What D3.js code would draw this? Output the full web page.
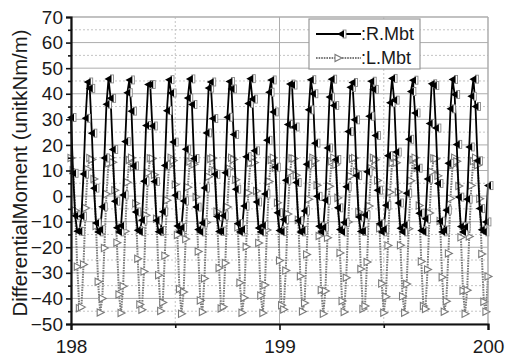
<!DOCTYPE html>
<html>
<head>
<meta charset="utf-8">
<script src="https://cdn.jsdelivr.net/npm/d3@7"></script>
<style>
    body { margin: 0; background: #fff; }
    svg { display: block; font-family: "Liberation Sans", Arial, sans-serif; }
</style>
</head>
<body>
<script>
(function(){

// sample times: 198.00 .. 200.00, one sample every 0.01
var tStart = 198,
    tStep = 0.01;

// right side differential moment (kNm/m)
var rMbt = [30.7, 8.9, -7.7, -13.7, -13.8, -7.9, 8.6, 30.4, 44.6, 42.1,
    24.6, 3.1, -10.5, -14.0, -13.1, -4.2, 14.9, 35.9, 45.8, 38.2,
    18.2, -2.0, -12.4, -14.0, -11.6, 0.4, 21.3, 40.4, 45.4, 33.2,
    11.8, -6.2, -13.4, -13.9, -9.4, 5.8, 27.6, 43.6, 43.6, 27.4,
    5.7, -9.5, -13.9, -13.4, -6.1, 12.0, 33.4, 45.5, 40.3, 21.1,
    0.3, -11.7, -14.0, -12.3, -1.9, 18.3, 38.3, 45.8, 35.8, 14.7,
    -4.3, -13.1, -14.0, -10.5, 3.2, 24.7, 42.2, 44.6, 30.3, 8.5,
    -8.0, -13.8, -13.7, -7.7, 9.1, 30.8, 44.8, 41.9, 24.1, 2.7,
    -10.7, -14.0, -13.0, -3.9, 15.4, 36.2, 45.9, 37.9, 17.7, -2.3,
    -12.5, -14.0, -11.5, 0.8, 21.8, 40.6, 45.4, 32.9, 11.3, -6.5,
    -13.5, -13.9, -9.2, 6.2, 28.0, 43.8, 43.4, 27.0, 5.3, -9.6,
    -14.0, -13.4, -5.8, 12.4, 33.7, 45.5, 40.0, 20.7, -0.1, -11.8,
    -14.0, -12.2, -1.6, 18.8, 38.7, 45.7, 35.4, 14.3, -4.6, -13.1,
    -14.0, -10.3, 3.6, 25.2, 42.5, 44.4, 29.8, 8.0, -8.2, -13.8,
    -13.7, -7.4, 9.5, 31.2, 44.9, 41.7, 23.7, 2.3, -10.8, -14.0,
    -12.9, -3.6, 15.8, 36.5, 46.0, 37.5, 17.2, -2.7, -12.6, -14.0,
    -11.3, 1.1, 22.2, 40.9, 45.3, 32.5, 10.9, -6.7, -13.5, -13.9,
    -8.9, 6.7, 28.4, 43.9, 43.2, 26.6, 4.9, -9.8, -14.0, -13.3,
    -5.5, 12.8, 34.1, 45.6, 39.7, 20.2, -0.4, -11.9, -14.0, -12.1,
    -1.2, 19.2, 39.0, 45.7, 35.0, 13.8, -4.9, -13.2, -14.0, -10.1,
    4.1];

// left side differential moment (kNm/m)
var lMbt = [14.9, 10.1, -5.6, -27.6, -43.8, -43.4, -26.7, -4.7, 10.5, 14.9,
    14.3, 6.7, -11.7, -33.5, -45.5, -40.0, -20.3, 0.8, 12.8, 15.0,
    13.2, 2.3, -18.2, -38.5, -45.7, -35.2, -13.7, 5.4, 14.1, 15.0,
    11.3, -2.9, -24.5, -42.4, -44.4, -29.5, -7.5, 9.1, 14.8, 14.7,
    8.3, -8.9, -30.9, -44.9, -41.6, -23.3, -1.6, 11.8, 15.0, 13.9,
    4.5, -15.2, -36.3, -46.0, -37.5, -16.8, 3.5, 13.5, 15.0, 12.4,
    -0.4, -21.7, -40.8, -45.3, -32.2, -10.3, 7.6, 14.5, 14.9, 9.9,
    -6.0, -28.1, -43.9, -43.3, -26.2, -4.3, 10.7, 15.0, 14.3, 6.4,
    -12.2, -33.9, -45.6, -39.7, -19.8, 1.2, 12.9, 15.0, 13.1, 2.0,
    -18.3, -38.9, -45.7, -34.8, -13.3, 5.7, 14.1, 15.0, 11.1, -2.6,
    -25.2, -42.7, -44.3, -29.1, -7.0, 9.3, 14.8, 14.7, 8.1, -9.3,
    -31.3, -45.1, -41.8, -22.8, -1.2, 12.0, 15.0, 13.8, 4.2, -15.6,
    -36.7, -46.0, -37.1, -16.3, 3.8, 13.6, 15.0, 12.2, -0.7, -22.2,
    -41.0, -45.3, -31.9, -10.1, 7.8, 14.6, 14.9, 9.6, -6.2, -28.5,
    -44.1, -43.0, -25.8, -3.9, 10.9, 15.0, 14.2, 6.1, -12.6, -34.2,
    -45.6, -39.3, -19.3, 1.5, 13.0, 15.0, 13.0, 1.6, -19.2, -39.2,
    -45.6, -34.4, -12.8, 6.0, 14.2, 15.0, 11.0, -3.7, -25.6, -43.0,
    -44.1, -28.7, -6.6, 9.5, 14.8, 14.6, 7.9, -9.7, -31.7, -45.2,
    -41.1, -22.4, -0.9, 12.1, 15.0, 13.6, 3.9, -16.1, -37.0, -46.0,
    -36.8, -15.8, 4.1, 13.7, 15.0, 12.1, -1.0, -22.6, -41.3, -45.2,
    -31.4];

// axis ticks
var xTicks = [198, 199, 200],
    xMinorTicks = [198.5, 199.5],
    yTicks = [70, 60, 50, 40, 30, 20, 10, 0, -10, -20, -30, -40, -50],
    yMinorTicks = [65, 55, 45, 35, 25, 15, 5, -5, -15, -25, -35, -45];

var seriesNames = ["R.Mbt", "L.Mbt"];

// frame
var width = 518,
    height = 360,
    plotLeft = 71,
    plotRight = 488,
    plotTop = 17,
    plotBottom = 324;

var svg = d3.select("body")
    .append("svg")
    .attr("width", width)
    .attr("height", height);

var x = d3.scaleLinear()
    .domain([198, 200])
    .range([plotLeft, plotRight]);

var y = d3.scaleLinear()
    .domain([-50, 70])
    .range([plotBottom, plotTop]);

// build rows from the arrays
var rows = rMbt.map(function(v, i){
    return { t: tStart + i * tStep, r: v, l: lMbt[i] };
});

// marker shapes
var rTri = "M-4,0L3,-3.8L3,3.8Z",
    lTri = "M4,0L-3,-3.6L-3,3.6Z";

// ---- gridlines ----
var grid = svg.append("g").attr("class", "grid");

grid.selectAll(".hMinor")
    .data(yMinorTicks)
    .enter()
    .append("line")
    .attr("x1", plotLeft).attr("x2", plotRight)
    .attr("y1", function(d){ return y(d); })
    .attr("y2", function(d){ return y(d); })
    .attr("stroke", "#c4c4c4")
    .attr("stroke-width", 1)
    .attr("stroke-dasharray", "2,2");

grid.selectAll(".hMajor")
    .data(yTicks)
    .enter()
    .append("line")
    .attr("x1", plotLeft).attr("x2", plotRight)
    .attr("y1", function(d){ return y(d); })
    .attr("y2", function(d){ return y(d); })
    .attr("stroke", "#adadad")
    .attr("stroke-width", 1);

grid.selectAll(".vMinor")
    .data(xMinorTicks)
    .enter()
    .append("line")
    .attr("x1", function(d){ return x(d); })
    .attr("x2", function(d){ return x(d); })
    .attr("y1", plotTop).attr("y2", plotBottom)
    .attr("stroke", "#c4c4c4")
    .attr("stroke-dasharray", "2,2");

grid.selectAll(".vMajor")
    .data(xTicks)
    .enter()
    .append("line")
    .attr("x1", function(d){ return x(d); })
    .attr("x2", function(d){ return x(d); })
    .attr("y1", plotTop).attr("y2", plotBottom)
    .attr("stroke", "#adadad");

// ---- series ----
var lineL = d3.line()
    .x(function(d){ return x(d.t); })
    .y(function(d){ return y(d.l); });

var lineR = d3.line()
    .x(function(d){ return x(d.t); })
    .y(function(d){ return y(d.r); });

svg.append("path")
    .datum(rows)
    .attr("d", lineL)
    .attr("fill", "none")
    .attr("stroke", "#7a7a7a")
    .attr("stroke-width", 2)
    .attr("stroke-dasharray", "1.6,1");

// L markers: hollow right triangle
svg.selectAll(".lMark")
    .data(rows)
    .enter()
    .append("path")
    .attr("class", "lMark")
    .attr("transform", function(d){ return "translate(" + x(d.t) + "," + y(d.l) + ")"; })
    .attr("d", lTri)
    .attr("fill", "#fff")
    .attr("stroke", "#7a7a7a")
    .attr("stroke-width", 1.1);

svg.append("path")
    .datum(rows)
    .attr("d", lineR)
    .attr("fill", "none")
    .attr("stroke", "#000")
    .attr("stroke-width", 1.8);

// R markers: filled left triangle with small open box
var rMarks = svg.selectAll(".rMark")
    .data(rows)
    .enter()
    .append("g")
    .attr("class", "rMark")
    .attr("transform", function(d){ return "translate(" + x(d.t) + "," + y(d.r) + ")"; });

rMarks.append("rect")
    .attr("x", 2).attr("y", -4)
    .attr("width", 3).attr("height", 8)
    .attr("fill", "#fff")
    .attr("stroke", "#888")
    .attr("stroke-width", 0.9);

rMarks.append("path")
    .attr("d", rTri)
    .attr("fill", "#000");

// ---- frame: gray top/right, dark axes left/bottom ----
svg.append("line")
    .attr("x1", plotRight).attr("x2", plotRight)
    .attr("y1", plotTop).attr("y2", plotBottom)
    .attr("stroke", "#adadad");

svg.append("line")
    .attr("x1", plotLeft).attr("x2", plotRight)
    .attr("y1", plotTop).attr("y2", plotTop)
    .attr("stroke", "#adadad");

// y axis
svg.append("g")
    .attr("transform", "translate(" + plotLeft + ",0)")
    .call(d3.axisLeft(y).tickValues(yTicks).tickSize(5).tickPadding(3));

svg.append("g")
    .attr("transform", "translate(" + plotLeft + ",0)")
    .call(d3.axisLeft(y).tickValues(yMinorTicks).tickSize(3).tickFormat(""))
    .select(".domain").remove();

// x axis
svg.append("g")
    .attr("transform", "translate(0," + plotBottom + ")")
    .call(d3.axisBottom(x).tickValues(xTicks).tickSize(6).tickPadding(10).tickFormat(d3.format("d")));

svg.append("g")
    .attr("transform", "translate(0," + plotBottom + ")")
    .call(d3.axisBottom(x).tickValues(xMinorTicks).tickSize(4).tickFormat(""))
    .select(".domain").remove();

svg.selectAll(".domain")
    .attr("stroke", "#111")
    .attr("stroke-width", 2.2);

svg.selectAll(".tick line")
    .attr("stroke", "#111")
    .attr("stroke-width", 1.6);

svg.selectAll(".tick text")
    .attr("fill", "#1a1a1a")
    .style("font-family", "'Liberation Sans', Arial, sans-serif")
    .style("font-size", "19px");

// y axis title
svg.append("text")
    .attr("transform", "translate(27,173) rotate(-90)")
    .attr("text-anchor", "middle")
    .attr("fill", "#1a1a1a")
    .style("font-size", "20px")
    .attr("textLength", 287)
    .attr("lengthAdjust", "spacingAndGlyphs")
    .text("DifferentialMoment (unitkNm/m)");

// ---- legend ----
var legend = svg.append("g")
    .attr("transform", "translate(309,19)");

legend.append("rect")
    .attr("width", 111)
    .attr("height", 50)
    .attr("fill", "#fff")
    .attr("stroke", "#999")
    .attr("stroke-width", 1.2);

// R.Mbt entry
legend.append("line")
    .attr("x1", 7).attr("x2", 52)
    .attr("y1", 15).attr("y2", 15)
    .attr("stroke", "#000")
    .attr("stroke-width", 1.8);

var lgR = legend.append("g").attr("transform", "translate(32,15)");
lgR.append("rect")
    .attr("x", 2).attr("y", -4)
    .attr("width", 3).attr("height", 8)
    .attr("fill", "#fff")
    .attr("stroke", "#888")
    .attr("stroke-width", 0.9);
lgR.append("path")
    .attr("d", rTri)
    .attr("fill", "#000");

legend.append("text")
    .attr("x", 52).attr("y", 21)
    .attr("fill", "#1a1a1a")
    .style("font-size", "18px")
    .text(":" + seriesNames[0]);

// L.Mbt entry
legend.append("line")
    .attr("x1", 7).attr("x2", 52)
    .attr("y1", 39).attr("y2", 39)
    .attr("stroke", "#7a7a7a")
    .attr("stroke-width", 2)
    .attr("stroke-dasharray", "1.6,1");

legend.append("path")
    .attr("transform", "translate(29,39)")
    .attr("d", lTri)
    .attr("fill", "#fff")
    .attr("stroke", "#7a7a7a")
    .attr("stroke-width", 1.1);

legend.append("text")
    .attr("x", 52).attr("y", 45)
    .attr("fill", "#1a1a1a")
    .style("font-size", "18px")
    .text(":" + seriesNames[1]);

})();
</script>
</body>
</html>
